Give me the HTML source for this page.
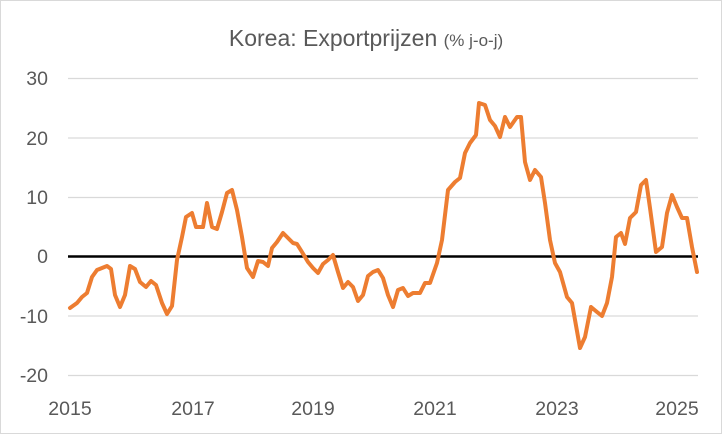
<!DOCTYPE html>
<html><head><meta charset="utf-8"><style>
html,body{margin:0;padding:0;background:#fff;}
svg{display:block;font-family:"Liberation Sans",Calibri,sans-serif;}
</style></head><body>
<svg width="722" height="434" viewBox="0 0 722 434" xmlns="http://www.w3.org/2000/svg">
<rect x="0.5" y="0.5" width="721" height="433" fill="#fff" stroke="#d9d9d9"/>
<text x="366" y="46" text-anchor="middle" fill="#595959" font-size="23">Korea: Exportprijzen <tspan font-size="17">(% j-o-j)</tspan></text>
<g stroke="#d9d9d9" stroke-width="1.3">
<line x1="68" x2="698" y1="78.5" y2="78.5"/>
<line x1="68" x2="698" y1="138" y2="138"/>
<line x1="68" x2="698" y1="197.5" y2="197.5"/>
<line x1="68" x2="698" y1="316" y2="316"/>
<line x1="68" x2="698" y1="375.5" y2="375.5"/>
</g>
<g fill="#595959" font-size="19.5" text-anchor="end">
<text x="48" y="85">30</text>
<text x="48" y="145">20</text>
<text x="48" y="204">10</text>
<text x="48" y="263">0</text>
<text x="48" y="323">-10</text>
<text x="48" y="382">-20</text>
</g>
<g fill="#595959" font-size="19.5" text-anchor="middle">
<text x="70" y="415">2015</text>
<text x="193" y="415">2017</text>
<text x="313" y="415">2019</text>
<text x="435" y="415">2021</text>
<text x="557" y="415">2023</text>
<text x="677" y="415">2025</text>
</g>
<line x1="68" x2="698" y1="256.5" y2="256.5" stroke="#000" stroke-width="2.5"/>
<polyline fill="none" stroke="#ED7D31" stroke-width="4" stroke-linejoin="round" stroke-linecap="round" points="70,308 77,303 82,297 87,293 92,277 97,270 102,268 107,266 111,269 115,295 120,307 125,295 130,266 135,269 140,282 146,287 151,281 156,285 162,303 167,314 172,306 177,260 182,237 186,217 192,213 196,227 203,227 207,203 212,227 217,229 222,212 227,193 232,190 237,210 242,237 247,268 253,277 258,261 263,262 268,266 272,248 277,242 283,233 288,238 293,243 297,244 302,252 308,262 313,268 318,273 323,264 328,260 333,255 338,272 343,288 348,282 353,287 358,301 363,295 368,276 373,272 378,270 383,278 388,295 393,307 398,290 403,288 408,296 413,293 420,293 425,283 430,283 437,263 442,240 448,190 455,182 460,178 465,153 470,143 476,135 479,103 485,105 490,120 495,126 500,137 505,117 510,127 517,117 521,117 525,162 530,180 535,170 541,177 545,203 550,240 555,263 560,272 567,297 572,303 580,348 585,337 591,307 597,312 602,316 607,303 612,277 616,237 621,233 625,244 630,218 636,212 641,185 646,180 650,208 656,252 662,247 667,213 672,195 677,207 682,218 687,218 692,247 697,272"/>
</svg>
</body></html>
